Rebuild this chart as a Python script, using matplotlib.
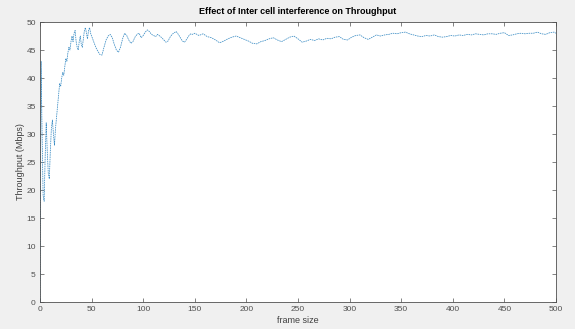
import numpy as np
import matplotlib.pyplot as plt

# frame size (x) and throughput in Mbps (y)
frame_early = [0, 1, 2, 3, 4, 5, 6, 7, 8, 9, 10, 11, 12, 13, 14, 15, 16, 17, 18, 19,
               20, 21, 22, 23, 24, 25, 26, 27, 28, 29, 30, 31, 32, 33, 34, 35, 36, 37,
               38, 39, 40, 41, 42, 43, 44, 45, 46, 47, 48, 49, 50]
tput_early = [0, 43, 30, 19, 18, 26, 32, 27, 23, 22, 27, 31, 32.5, 30, 28, 31, 33, 35,
              37, 39, 38.5, 40, 41, 40.5, 42, 43.5, 43, 44.5, 45.5, 45, 46.5, 47.5, 46.5,
              48, 48.5, 46.5, 45.5, 45, 46.5, 47.5, 46, 45.5, 47, 48.5, 49, 48, 47, 48.5,
              49, 48, 47.5]

frame_mid = list(range(52, 151, 2))
tput_mid = [46.5, 45.5, 44.8, 44.2, 44.1, 45.5, 46.8, 47.5, 47.8, 47.2, 46, 45, 44.6,
            45.5, 47, 48, 47.6, 46.8, 46.2, 46.5, 47.3, 47.8, 48, 47.2, 47.6, 48.2, 48.6,
            48.3, 47.8, 47.6, 47.4, 47.8, 47.5, 47.2, 46.8, 46.4, 46.6, 47.3, 47.8, 48.1,
            48.3, 47.8, 47.2, 46.6, 46.4, 46.9, 47.5, 47.9, 47.8, 48.0]

frame_late = list(range(154, 499, 4)) + [500]
tput_late = [47.6, 47.9, 47.4, 47.2, 46.8, 46.3, 46.6, 47.0, 47.3, 47.5, 47.2, 46.9,
             46.6, 46.2, 46.1, 46.5, 46.7, 47.0, 47.2, 46.8, 46.5, 46.9, 47.3, 47.5, 47.0,
             46.4, 46.6, 46.9, 46.7, 47.0, 46.8, 47.1, 47.0, 47.3, 47.4, 46.9, 46.8, 47.3,
             47.6, 47.7, 47.2, 46.9, 47.3, 47.7, 47.5, 47.7, 47.8, 48.0, 47.9, 48.1, 48.2,
             47.9, 47.7, 47.5, 47.4, 47.6, 47.5, 47.7, 47.4, 47.3, 47.4, 47.6, 47.5, 47.7,
             47.6, 47.8, 47.7, 47.9, 47.8, 47.7, 47.9, 47.9, 47.8, 48.0, 48.1, 47.6, 47.7,
             47.9, 48.0, 47.9, 48.0, 48.0, 48.2, 47.9, 47.8, 48.1, 48.2, 48.0]

frame = np.array(frame_early + frame_mid + frame_late)
tput = np.array(tput_early + tput_mid + tput_late)

plt.rcParams['font.family'] = ['Liberation Sans', 'DejaVu Sans']

fig = plt.figure(figsize=(5.75, 3.29), dpi=100, facecolor='#f0f0f0')
ax = fig.add_axes([0.0696, 0.082, 0.8974, 0.851])
ax.set_facecolor('white')

ax.plot(frame, tput, color='#3a8cc4', lw=0.55, linestyle=(0, (2, 1)))

ax.set_xlim(0, 500)
ax.set_ylim(0, 50)
ax.set_xticks(np.arange(0, 501, 50))
ax.set_yticks(np.arange(0, 51, 5))
ax.tick_params(direction='in', top=True, right=True, length=3, width=0.5,
               labelsize=6, colors='#505050', pad=3)
for s in ax.spines.values():
    s.set_linewidth(0.6)
    s.set_color('#505050')

ax.set_title('Effect of Inter cell interference on Throughput', fontsize=6.5,
             fontweight='bold', pad=6)
ax.set_xlabel('frame size', fontsize=6.5, color='#404040', labelpad=2)
ax.set_ylabel('Throughput (Mbps)', fontsize=6.5, color='#404040', labelpad=1)

fig.savefig('out.png', dpi=100, facecolor=fig.get_facecolor())
